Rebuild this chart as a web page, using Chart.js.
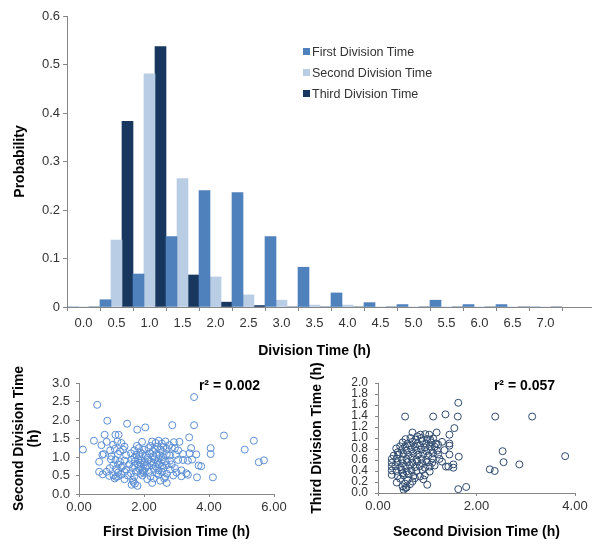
<!DOCTYPE html>
<html lang="en">
<head>
<meta charset="UTF-8">
<title>Division Time</title>
<script src="https://cdn.jsdelivr.net/npm/chart.js"></script>
<style>
    body { margin: 0; width: 592px; height: 545px; background: #fff; position: relative; overflow: hidden; font-family: "Liberation Sans", Arial, sans-serif; }
    canvas { position: absolute; }
    #graficoBarras { left: 0; top: 0; }
    #graficoPrimeira { left: 0; top: 360px; }
    #graficoSegunda { left: 300px; top: 360px; }
    .legenda { position: absolute; left: 303px; top: 41px; font-size: 12.5px; color: #333; }
    .legenda div { height: 21px; display: flex; align-items: center; }
    .legenda span { display: inline-block; width: 7px; height: 7px; margin-right: 2px; }
</style>
</head>
<body>
    <canvas id="graficoBarras" width="592" height="360"></canvas>
    <div class="legenda" id="legenda"></div>
    <canvas id="graficoPrimeira" width="300" height="185"></canvas>
    <canvas id="graficoSegunda" width="292" height="185"></canvas>
<script>
    // histogram
    const categorias = ['0.0', '0.5', '1.0', '1.5', '2.0', '2.5', '3.0', '3.5', '4.0', '4.5', '5.0', '5.5', '6.0', '6.5', '7.0'];
    const primeiraDivisao = [0, 0.015, 0.068, 0.145, 0.240, 0.236, 0.145, 0.082, 0.029, 0.009, 0.005, 0.014, 0.005, 0.005, 0];
    const segundaDivisao = [0, 0.138, 0.481, 0.265, 0.062, 0.025, 0.014, 0.004, 0.004, 0, 0, 0, 0, 0, 0];
    const terceiraDivisao = [0, 0.383, 0.537, 0.066, 0.010, 0.003, 0, 0, 0, 0, 0, 0, 0, 0, 0];
    const nomesSeries = ['First Division Time', 'Second Division Time', 'Third Division Time'];
    const coresSeries = ['#4F81BD', '#B9CDE5', '#17375E'];

    // scatter: first vs second division time
    const primeiraXsegunda = [
        [0.12, 1.20], [0.56, 2.41], [0.46, 1.44], [0.87, 1.98], [0.79, 1.60], [0.69, 1.32], [0.62, 0.87], [1.48, 1.90],
        [1.79, 1.74], [2.04, 1.80], [1.94, 1.41], [2.87, 1.86], [3.54, 2.62], [3.54, 1.86], [3.39, 1.53], [4.46, 1.58],
        [4.05, 1.24], [4.05, 1.08], [5.10, 1.20], [5.38, 1.44], [5.53, 0.86], [5.69, 0.91], [4.12, 0.45], [3.63, 0.45],
        [3.68, 0.77], [3.76, 0.75], [3.45, 1.24], [3.61, 1.07], [3.09, 1.41], [1.12, 1.60], [1.22, 1.60], [1.18, 1.42],
        [0.85, 1.41], [0.72, 1.06], [0.62, 0.60],
        [1.05, 1.33], [1.30, 1.38], [1.78, 1.30], [1.84, 1.24], [2.25, 1.42], [2.36, 1.38], [2.45, 1.44], [2.55, 1.36],
        [2.66, 1.42], [2.92, 1.40], [2.20, 1.30], [2.42, 1.28], [2.60, 1.27], [2.78, 1.32], [1.40, 1.28],
        [0.96, 1.18], [1.10, 1.22], [1.26, 1.15], [1.36, 1.20], [1.70, 1.18], [1.90, 1.12], [2.00, 1.20], [2.14, 1.24],
        [2.27, 1.16], [2.34, 1.22], [2.50, 1.20], [2.58, 1.14], [2.70, 1.22], [2.86, 1.25], [3.05, 1.18], [2.95, 1.24],
        [0.76, 1.08], [1.00, 1.02], [1.20, 1.08], [1.45, 1.05], [1.60, 1.10], [1.76, 1.06], [1.85, 1.02], [1.95, 1.08],
        [2.05, 1.04], [2.18, 1.10], [2.28, 1.02], [2.38, 1.08], [2.48, 1.05], [2.58, 1.00], [2.70, 1.08], [2.80, 1.04],
        [2.98, 1.06], [3.20, 1.08], [3.40, 1.10], [1.70, 0.98], [2.12, 0.98], [2.45, 0.96],
        [0.98, 0.94], [1.12, 0.92], [1.26, 0.88], [1.40, 0.90], [1.62, 0.92], [1.72, 0.88], [1.82, 0.94], [1.92, 0.90],
        [2.02, 0.86], [2.12, 0.92], [2.22, 0.88], [2.32, 0.94], [2.42, 0.86], [2.55, 0.92], [2.65, 0.88], [2.80, 0.90],
        [3.05, 0.92], [3.20, 0.92], [3.35, 0.90], [3.48, 0.93], [1.88, 0.84], [2.30, 0.82],
        [1.05, 0.78], [1.20, 0.80], [1.35, 0.76], [1.55, 0.80], [1.70, 0.76], [1.80, 0.80], [1.90, 0.74], [2.00, 0.80],
        [2.10, 0.76], [2.25, 0.78], [2.36, 0.74], [2.46, 0.80], [2.56, 0.76], [2.70, 0.78], [2.85, 0.80],
        [0.95, 0.70], [1.15, 0.68], [1.30, 0.72], [1.45, 0.66], [1.65, 0.70], [1.86, 0.68], [1.96, 0.64], [2.05, 0.70],
        [2.30, 0.68], [2.45, 0.64], [2.60, 0.70], [2.80, 0.66], [2.95, 0.70], [3.15, 0.64], [1.98, 0.58],
        [0.85, 0.60], [1.20, 0.58], [1.40, 0.60], [1.60, 0.56], [1.75, 0.60], [1.90, 0.55], [2.15, 0.60], [2.40, 0.56],
        [2.55, 0.60], [2.70, 0.55], [3.00, 0.58], [3.30, 0.56], [2.00, 0.62],
        [0.73, 0.53], [0.93, 0.49], [1.06, 0.50], [1.20, 0.48], [1.30, 0.52], [1.50, 0.50], [1.70, 0.47], [1.95, 0.50],
        [2.20, 0.48], [2.45, 0.52], [2.65, 0.46], [2.90, 0.50], [3.15, 0.48], [3.35, 0.52], [1.15, 0.46],
        [1.10, 0.42], [1.40, 0.40], [1.65, 0.38], [2.10, 0.40], [2.30, 0.42], [2.50, 0.36], [2.62, 0.42],
        [1.67, 0.33], [2.25, 0.30], [2.70, 0.30], [1.72, 0.28], [1.62, 0.25], [1.80, 0.22]
    ];

    // scatter: second vs third division time
    const segundaXterceira = [
        [1.63, 1.64], [0.55, 1.39], [1.12, 1.39], [1.37, 1.43], [1.62, 1.39], [2.38, 1.39], [3.13, 1.39], [1.55, 1.18],
        [1.45, 1.06], [1.45, 0.90], [1.64, 0.66], [1.53, 0.52], [1.53, 0.46], [1.38, 0.48], [1.43, 0.48], [2.53, 0.76],
        [2.55, 0.56], [2.87, 0.52], [2.27, 0.43], [2.37, 0.40], [3.80, 0.67], [1.63, 0.07], [1.79, 0.11], [1.19, 1.10],
        [1.06, 0.97], [0.56, 0.09], [0.52, 0.06], [0.37, 0.81], [1.30, 0.93], [1.22, 0.88],
        [0.70, 1.10], [0.86, 1.06], [0.96, 1.07], [1.04, 1.06], [0.80, 1.03],
        [0.56, 0.98], [0.66, 1.00], [0.76, 0.97], [0.88, 1.00], [1.00, 0.98], [1.12, 0.99],
        [0.50, 0.92], [0.60, 0.90], [0.70, 0.93], [0.80, 0.90], [0.90, 0.94], [0.98, 0.90], [1.08, 0.92], [1.18, 0.90],
        [0.45, 0.85], [0.55, 0.84], [0.65, 0.86], [0.75, 0.84], [0.85, 0.86], [0.95, 0.83], [1.05, 0.85], [1.15, 0.84], [1.45, 0.86],
        [0.48, 0.78], [0.58, 0.77], [0.68, 0.79], [0.78, 0.77], [0.88, 0.79], [0.98, 0.76], [1.08, 0.78], [1.20, 0.77], [1.35, 0.78], [0.40, 0.74],
        [0.42, 0.70], [0.52, 0.71], [0.62, 0.69], [0.72, 0.72], [0.82, 0.70], [0.92, 0.71], [1.02, 0.68], [1.12, 0.72], [1.22, 0.70], [1.45, 0.70], [0.32, 0.68],
        [0.28, 0.62], [0.38, 0.63], [0.48, 0.61], [0.58, 0.62], [0.68, 0.64], [0.78, 0.61], [0.88, 0.62], [0.98, 0.60], [1.10, 0.63], [1.25, 0.62],
        [0.28, 0.55], [0.40, 0.56], [0.50, 0.54], [0.60, 0.56], [0.70, 0.55], [0.80, 0.57], [0.90, 0.54], [1.00, 0.56], [1.10, 0.55], [1.30, 0.57],
        [0.28, 0.48], [0.35, 0.49], [0.45, 0.47], [0.55, 0.48], [0.65, 0.50], [0.75, 0.47], [0.85, 0.49], [0.95, 0.46], [1.05, 0.48], [1.15, 0.50],
        [0.28, 0.41], [0.38, 0.40], [0.48, 0.42], [0.58, 0.39], [0.68, 0.41], [0.78, 0.40], [0.90, 0.42], [1.05, 0.39], [0.50, 0.36],
        [0.28, 0.33], [0.40, 0.31], [0.52, 0.32], [0.62, 0.34], [0.72, 0.31], [0.85, 0.30], [0.95, 0.32],
        [0.45, 0.26], [0.60, 0.24], [0.75, 0.27], [0.92, 0.25], [0.70, 0.21],
        [0.38, 0.19], [0.55, 0.17], [0.65, 0.16], [1.00, 0.15], [0.50, 0.12], [0.58, 0.10]
    ];

    const corEixo = '#868686';
    const corTexto = '#333';
    Chart.defaults.font.family = '"Liberation Sans", Arial, sans-serif';

    // axis line in the original runs on past the last category
    const estenderEixo = {
        id: 'estenderEixo',
        afterDraw(chart) {
            const { ctx, chartArea } = chart;
            ctx.save();
            ctx.strokeStyle = corEixo;
            ctx.lineWidth = 1;
            ctx.beginPath();
            ctx.moveTo(chartArea.right, chartArea.bottom + 0.5);
            ctx.lineTo(chart.width, chartArea.bottom + 0.5);
            ctx.stroke();
            ctx.restore();
        }
    };

    const textoR2 = {
        id: 'textoR2',
        afterDraw(chart, args, opts) {
            const { ctx, chartArea } = chart;
            ctx.save();
            ctx.font = 'bold 14px "Liberation Sans", Arial, sans-serif';
            ctx.fillStyle = '#000';
            ctx.textAlign = 'right';
            ctx.textBaseline = 'middle';
            ctx.fillText(opts.texto, chartArea.right - opts.recuo, chartArea.top + 3);
            ctx.restore();
        }
    };

    function montarLegenda() {
        const div = document.getElementById('legenda');
        nomesSeries.forEach((nome, i) => {
            const linha = document.createElement('div');
            const quadrado = document.createElement('span');
            quadrado.style.background = coresSeries[i];
            linha.appendChild(quadrado);
            linha.appendChild(document.createTextNode(nome));
            div.appendChild(linha);
        });
    }

    function plotarHistograma() {
        const series = [primeiraDivisao, segundaDivisao, terceiraDivisao];
        const dados = {
            labels: categorias,
            datasets: series.map((valores, i) => ({
                label: nomesSeries[i],
                data: valores,
                backgroundColor: coresSeries[i],
                categoryPercentage: 1,
                barPercentage: 1
            }))
        };

        new Chart(document.getElementById('graficoBarras'), {
            type: 'bar',
            data: dados,
            plugins: [estenderEixo],
            options: {
                responsive: false,
                animation: false,
                layout: { padding: { top: 16, right: 30, left: 0, bottom: 0 } },
                plugins: { legend: { display: false }, tooltip: { enabled: false } },
                scales: {
                    x: {
                        grid: { drawOnChartArea: false, tickLength: 4, color: corEixo },
                        border: { color: corEixo },
                        ticks: { color: corTexto, font: { size: 13 }, padding: 5, maxRotation: 0, autoSkip: false },
                        title: { display: true, text: 'Division Time (h)', color: '#000', font: { size: 14, weight: 'bold' }, padding: { top: 0, bottom: 0 } },
                        afterFit(s) { s.height = 53; }
                    },
                    y: {
                        min: 0,
                        max: 0.6,
                        grid: { drawOnChartArea: false, tickLength: 4, color: corEixo },
                        border: { color: corEixo },
                        ticks: { stepSize: 0.1, color: corTexto, font: { size: 13 }, padding: 3, callback: v => v === 0 ? '0' : v.toFixed(1) },
                        title: { display: true, text: 'Probability', color: '#000', font: { size: 14, weight: 'bold' }, padding: { top: 12, bottom: 0 } },
                        afterFit(s) { s.width = 67; }
                    }
                }
            }
        });
    }

    function plotarDispersao(id, pares, cor, cfg) {
        new Chart(document.getElementById(id), {
            type: 'scatter',
            data: {
                datasets: [{
                    data: pares.map(p => ({ x: p[0], y: p[1] })),
                    borderColor: cor,
                    backgroundColor: 'rgba(0,0,0,0)',
                    borderWidth: 1,
                    pointRadius: 3.5
                }]
            },
            plugins: [textoR2],
            options: {
                responsive: false,
                animation: false,
                layout: { padding: { top: 23, right: cfg.direita, left: 0, bottom: 0 } },
                plugins: {
                    legend: { display: false },
                    tooltip: { enabled: false },
                    textoR2: { texto: cfg.r2, recuo: cfg.recuoR2 }
                },
                scales: {
                    x: {
                        min: 0,
                        max: cfg.xMax,
                        grid: { drawOnChartArea: false, tickLength: 3, color: corEixo },
                        border: { color: corEixo },
                        ticks: { stepSize: 2, color: corTexto, font: { size: 13 }, padding: 3, maxRotation: 0, callback: v => v.toFixed(2) },
                        title: { display: true, text: cfg.tituloX, color: '#000', font: { size: 14, weight: 'bold' }, padding: { top: 0, bottom: 4 } },
                        afterFit(s) { s.height = cfg.alturaX; }
                    },
                    y: {
                        min: 0,
                        max: cfg.yMax,
                        grid: { drawOnChartArea: false, tickLength: 3, color: corEixo },
                        border: { color: corEixo },
                        ticks: { stepSize: cfg.yPasso, color: corTexto, font: { size: cfg.fonteY, lineHeight: 1 }, padding: cfg.recuoY, autoSkip: false, callback: v => v.toFixed(1) },
                        title: { display: true, text: cfg.tituloY, color: '#000', font: { size: 14, weight: 'bold', lineHeight: 1.1 }, padding: { top: cfg.recuoTituloY, bottom: 0 } },
                        afterFit(s) { s.width = cfg.larguraY; }
                    }
                }
            }
        });
    }

    window.onload = () => {
        montarLegenda();
        plotarHistograma();
        plotarDispersao('graficoPrimeira', primeiraXsegunda, '#5B8ED3', {
            xMax: 6, yMax: 3, yPasso: 0.5, fonteY: 13, recuoY: 6,
            tituloX: 'First Division Time (h)', tituloY: ['Second Division Time', '(h)'],
            r2: 'r² = 0.002', recuoR2: 14, direita: 26, alturaX: 51, larguraY: 79, recuoTituloY: 11
        });
        plotarDispersao('graficoSegunda', segundaXterceira, '#2E4A6E', {
            xMax: 4, yMax: 2, yPasso: 0.2, fonteY: 12, recuoY: 7,
            tituloX: 'Second Division Time (h)', tituloY: 'Third Division Time (h)',
            r2: 'r² = 0.057', recuoR2: 20, direita: 17, alturaX: 52, larguraY: 78, recuoTituloY: 9
        });
    };
</script>
</body>
</html>
